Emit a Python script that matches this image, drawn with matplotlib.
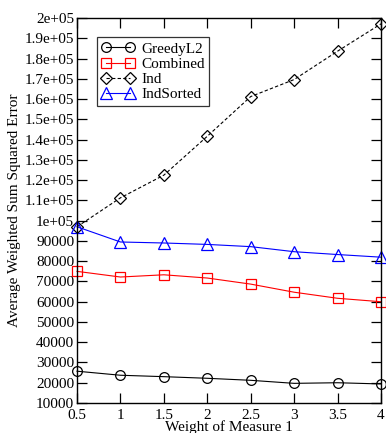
import matplotlib
matplotlib.use('Agg')
import matplotlib.pyplot as plt

weights = [0.5, 1, 1.5, 2, 2.5, 3, 3.5, 4]
greedy_l2 = [25700, 23700, 23000, 22200, 21200, 19700, 20000, 19400]
combined = [75000, 72200, 73300, 71700, 68700, 64700, 61700, 60000]
ind = [97000, 111300, 122500, 141700, 161300, 169700, 183700, 197200]
ind_sorted = [97000, 89500, 89000, 88300, 87200, 84700, 83300, 82000]

y_ticks = list(range(10000, 200001, 10000))
y_labels = [str(v) if v < 100000 else '%ge+05' % (v / 100000) for v in y_ticks]
x_ticks = [0.5, 1, 1.5, 2, 2.5, 3, 3.5, 4]
x_labels = ['0.5', '1', '1.5', '2', '2.5', '3', '3.5', '4']

plt.rcParams['font.family'] = ['Liberation Serif', 'DejaVu Serif']

fig = plt.figure(figsize=(3.86, 4.33), dpi=100)
ax = fig.add_axes([0.1995, 0.0693, 0.7875, 0.8887])

ax.plot(weights, greedy_l2, color='black', lw=0.8, marker='o', ms=7,
        mfc='none', mec='black', mew=0.9, label='GreedyL2', clip_on=False)
ax.plot(weights, combined, color='red', lw=0.8, marker='s', ms=6.5,
        mfc='none', mec='red', mew=0.9, label='Combined', clip_on=False)
ax.plot(weights, ind, color='black', lw=0.8, ls=(0, (3, 2)), marker='D', ms=6,
        mfc='none', mec='black', mew=0.9, label='Ind', clip_on=False)
ax.plot(weights, ind_sorted, color='blue', lw=0.8, marker='^', ms=8,
        mfc='none', mec='blue', mew=0.9, label='IndSorted', clip_on=False)

ax.set_xlim(0.5, 4)
ax.set_ylim(10000, 200000)
ax.set_xticks(x_ticks)
ax.set_xticklabels(x_labels)
ax.set_yticks(y_ticks)
ax.set_yticklabels(y_labels)
ax.tick_params(direction='in', length=7, width=0.9, top=True, right=True,
               labelsize=11, pad=2)
ax.tick_params(axis='x', pad=4)
for s in ax.spines.values():
    s.set_linewidth(1.0)

ax.set_xlabel('Weight of Measure 1', fontsize=11, labelpad=-1)
ax.set_ylabel('Average Weighted Sum Squared Error', fontsize=11, labelpad=3)

leg = ax.legend(loc='upper left', bbox_to_anchor=(0.065, 0.95), numpoints=2,
                fontsize=11, frameon=True, fancybox=False, handlelength=2.2,
                handletextpad=0.4, borderpad=0.3, labelspacing=0.1,
                borderaxespad=0)
leg.get_frame().set_edgecolor('black')
leg.get_frame().set_linewidth(0.9)

fig.savefig('out.png', dpi=100)
